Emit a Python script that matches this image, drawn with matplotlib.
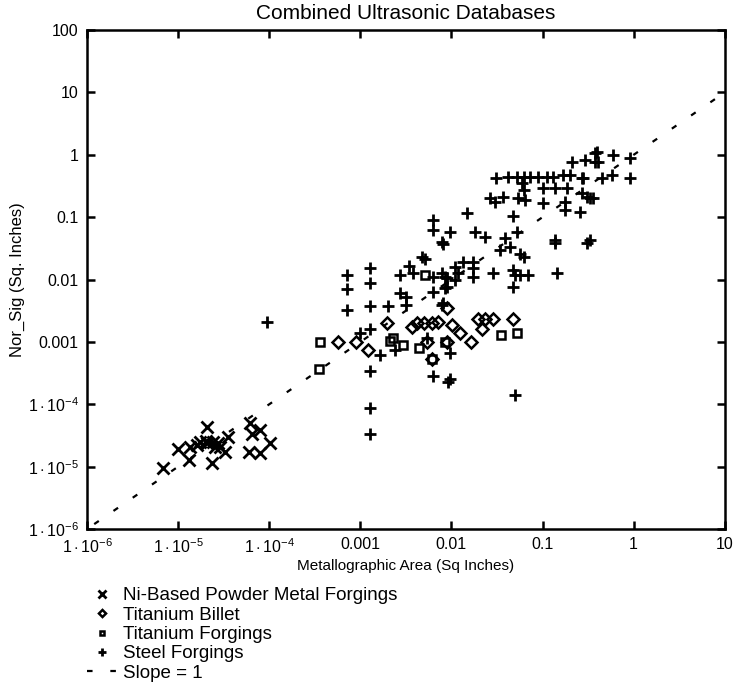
import matplotlib
matplotlib.use("Agg")
import matplotlib.pyplot as plt
import numpy as np

plt.rcParams['font.family'] = ['Liberation Sans', 'DejaVu Sans']
plt.rcParams['mathtext.fontset'] = 'custom'
plt.rcParams['mathtext.rm'] = 'Liberation Sans'
plt.rcParams['mathtext.it'] = 'Liberation Sans'

# Ni-based powder metal forgings
ni_x = [2.06e-5, 1.0e-5, 1.35e-5, 1.33e-5, 6.9e-6, 1.74e-5, 2.06e-5, 2.43e-5, 2.54e-5,
        2.34e-5, 3.27e-5, 3.56e-5, 2.76e-5, 1.6e-5, 6.15e-5, 7.9e-5, 6.4e-5, 1.02e-4,
        6.05e-5, 7.9e-5, 2.0e-5, 2.9e-5]
ni_y = [4.4e-5, 1.9e-5, 2.1e-5, 1.28e-5, 9.5e-6, 2.5e-5, 2.4e-5, 2.5e-5, 2.1e-5,
        1.14e-5, 1.75e-5, 3.0e-5, 2.4e-5, 2.23e-5, 5.0e-5, 3.9e-5, 3.4e-5, 2.43e-5,
        1.75e-5, 1.68e-5, 2.6e-5, 2.1e-5]

# titanium billet
tb_x = [5.65e-4, 8.97e-4, 1.22e-3, 1.95e-3, 3.67e-3, 4.16e-3, 5.0e-3, 6.08e-3, 7.2e-3,
        8.9e-3, 0.0101, 0.0124, 0.0163, 5.35e-3, 8.9e-3, 0.0197, 0.0234, 0.0288,
        0.0215, 0.047, 6.1e-3]
tb_y = [9.9e-4, 9.9e-4, 7.3e-4, 2.0e-3, 1.76e-3, 2.0e-3, 2.0e-3, 2.0e-3, 2.1e-3,
        3.47e-3, 1.87e-3, 1.38e-3, 9.9e-4, 1.01e-3, 1.01e-3, 2.31e-3, 2.31e-3, 2.31e-3,
        1.6e-3, 2.33e-3, 5.3e-4]

# titanium forgings
tf_x = [3.6e-4, 3.5e-4, 2.27e-3, 2.1e-3, 2.96e-3, 4.4e-3, 6.1e-3, 0.0348, 0.0528, 8.5e-3, 5.1e-3]
tf_y = [1.01e-3, 3.65e-4, 1.15e-3, 1.05e-3, 8.9e-4, 7.9e-4, 5.3e-4, 1.29e-3, 1.41e-3, 1.0e-3, 0.0119]

# steel forgings
st_x = [8.0e-3, 4.7e-3, 5.1e-3, 3.4e-3, 3.8e-3, 2.7e-3, 1.28e-3, 7.1e-4, 7.1e-4, 1.28e-3,
        7.1e-4, 1.28e-3, 2.0e-3, 2.7e-3, 3.2e-3, 3.2e-3, 6.3e-3, 6.3e-3, 8.1e-3, 1.28e-3,
        9.9e-4, 1.64e-3, 2.4e-3, 1.28e-3, 1.28e-3, 1.28e-3, 5.4e-3, 6.3e-3, 9.2e-3, 7.8e-3,
        8.9e-3, 8.9e-3,
        0.137, 0.305, 0.034, 0.044, 0.057, 0.062, 0.0135, 0.0174, 0.011, 0.0174,
        0.0119, 8.5e-3, 0.011, 0.0174, 0.0288, 0.048, 0.050, 0.057, 0.070, 0.048,
        0.143, 8.5e-3, 7.8e-3, 9.7e-3, 9.7e-3, 0.050,
        0.209, 0.292, 0.377, 0.377, 0.031, 0.042, 0.052, 0.062, 0.073, 0.09,
        0.111, 0.131, 0.169, 0.2, 0.269, 0.059, 0.062, 0.102, 0.137, 0.185,
        0.269, 0.332, 0.0265, 0.030, 0.037, 0.054, 0.064, 0.102, 0.177, 0.177,
        0.258, 0.0147, 0.048, 6.3e-3, 6.3e-3, 9.7e-3, 7.8e-3, 0.0182, 0.0234, 0.052,
        0.0387, 0.137, 0.332,
        0.394, 0.41, 0.598, 0.914, 0.28, 0.447, 0.575, 0.914, 0.305, 0.361,
        9.5e-5]
st_y = [0.037, 0.023, 0.021, 0.0165, 0.0126, 0.0119, 0.0152, 0.0119, 0.007, 0.0087,
        0.0033, 0.0038, 0.0037, 0.006, 0.0053, 0.0039, 0.0111, 0.0064, 0.0042, 0.0016,
        0.00138, 6.2e-4, 7.4e-4, 3.4e-4, 8.6e-5, 3.3e-5, 1.15e-3, 2.8e-4, 2.3e-4, 0.0126,
        0.0105, 0.0077,
        0.038, 0.038, 0.030, 0.033, 0.026, 0.023, 0.0194, 0.0194, 0.016, 0.0152,
        0.0126, 0.0111, 0.0099, 0.0111, 0.0126, 0.0143, 0.0119, 0.0119, 0.0119, 0.0077,
        0.0129, 0.0073, 0.0039, 6.6e-4, 2.5e-4, 1.4e-4,
        0.775, 0.826, 1.06, 0.775, 0.42, 0.446, 0.446, 0.446, 0.446, 0.446,
        0.446, 0.446, 0.474, 0.474, 0.42, 0.349, 0.273, 0.29, 0.29, 0.29,
        0.242, 0.201, 0.201, 0.177, 0.213, 0.201, 0.189, 0.167, 0.177, 0.130,
        0.122, 0.116, 0.104, 0.09, 0.062, 0.0586, 0.0405, 0.0586, 0.0487, 0.0586,
        0.0459, 0.0432, 0.0432,
        1.12, 0.775, 0.99, 0.88, 0.42, 0.42, 0.474, 0.42, 0.213, 0.201,
        0.0021]

# slope = 1 reference line
line_x = [1.2e-6, 10]

x_ticks = [1e-6, 1e-5, 1e-4, 1e-3, 1e-2, 1e-1, 1, 10]
x_labels = [r'$1\cdot10^{-6}$', r'$1\cdot10^{-5}$', r'$1\cdot10^{-4}$', '0.001', '0.01', '0.1', '1', '10']
y_ticks = [1e-6, 1e-5, 1e-4, 1e-3, 1e-2, 1e-1, 1, 10, 100]
y_labels = [r'$1\cdot10^{-6}$', r'$1\cdot10^{-5}$', r'$1\cdot10^{-4}$', '0.001', '0.01', '0.1', '1', '10', '100']

fig = plt.figure(figsize=(7.33, 6.92), dpi=100)
ax = fig.add_axes([0.1187, 0.2355, 0.870, 0.721])

ax.plot(ni_x, ni_y, ls='none', marker='x', ms=8.5, mew=2, color='black',
        label='Ni-Based Powder Metal Forgings')
ax.plot(tb_x, tb_y, ls='none', marker='D', ms=6, mew=1.8, mfc='none', color='black',
        label='Titanium Billet')
ax.plot(tf_x, tf_y, ls='none', marker='s', ms=6, mew=1.8, mfc='none', color='black',
        label='Titanium Forgings')
ax.plot(st_x, st_y, ls='none', marker='+', ms=9, mew=2, color='black',
        label='Steel Forgings')
ax.plot(line_x, line_x, ls=(0, (2.5, 8)), lw=1.6, color='black', label='Slope = 1')

ax.set_xscale('log')
ax.set_yscale('log')
ax.set_xlim(1e-6, 10)
ax.set_ylim(1e-6, 100)
ax.set_xticks(x_ticks)
ax.set_xticklabels(x_labels)
ax.set_yticks(y_ticks)
ax.set_yticklabels(y_labels)
ax.minorticks_off()
ax.tick_params(direction='in', length=6, width=1.8, top=True, right=True,
               labelsize=11.5, pad=6)
for s in ax.spines.values():
    s.set_linewidth(1.8)

ax.set_title('Combined Ultrasonic Databases', fontsize=15, pad=8)
ax.set_xlabel('Metallographic Area (Sq Inches)', fontsize=11, labelpad=2)
ax.set_ylabel('Nor_Sig (Sq. Inches)', fontsize=12, labelpad=2)

ax.legend(loc='upper left', bbox_to_anchor=(0.106, 0.165), bbox_transform=fig.transFigure,
          frameon=False, fontsize=13.5, markerscale=0.6, handlelength=1.6,
          handletextpad=0.3, labelspacing=0.12, borderpad=0)

fig.savefig('out.png', dpi=100)
